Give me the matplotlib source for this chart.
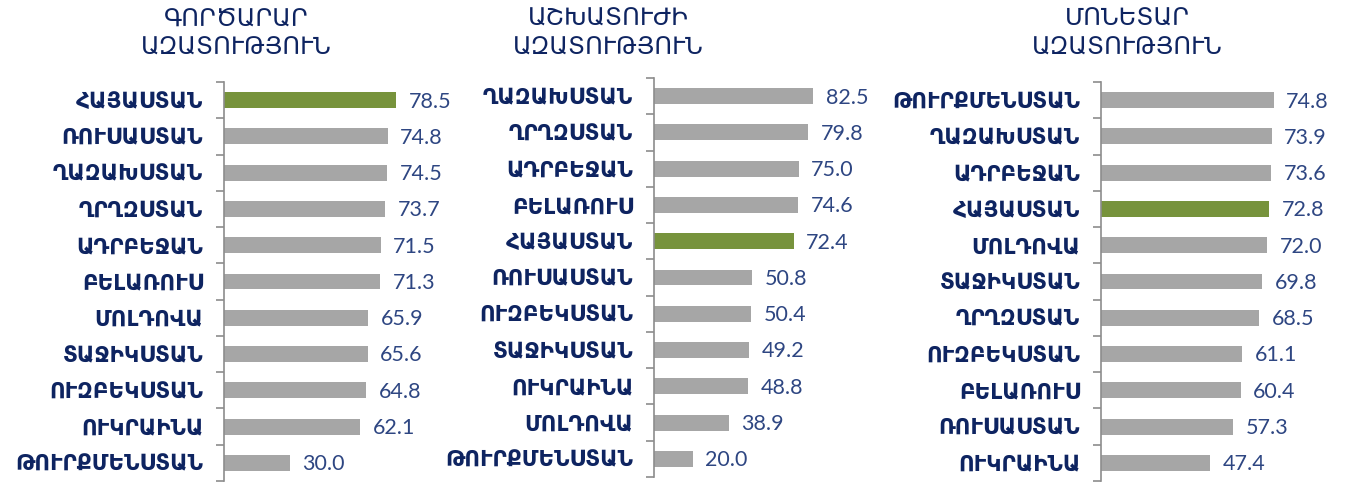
import matplotlib
matplotlib.use('Agg')
import matplotlib.pyplot as plt

titles = ['ԳՈՐԾԱՐԱՐ\nԱԶԱՏՈՒԹՅՈՒՆ', 'ԱՇԽԱՏՈՒԺԻ\nԱԶԱՏՈՒԹՅՈՒՆ', 'ՄՈՆԵՏԱՐ\nԱԶԱՏՈՒԹՅՈՒՆ']

countries_1 = ['ՀԱՅԱՍՏԱՆ', 'ՌՈՒՍԱՍՏԱՆ', 'ՂԱԶԱԽՍՏԱՆ', 'ՂՐՂԶՍՏԱՆ', 'ԱԴՐԲԵՋԱՆ', 'ԲԵԼԱՌՈՒՍ',
               'ՄՈԼԴՈՎԱ', 'ՏԱՋԻԿՍՏԱՆ', 'ՈՒԶԲԵԿՍՏԱՆ', 'ՈՒԿՐԱԻՆԱ', 'ԹՈՒՐՔՄԵՆՍՏԱՆ']
values_1 = [78.5, 74.8, 74.5, 73.7, 71.5, 71.3, 65.9, 65.6, 64.8, 62.1, 30.0]

countries_2 = ['ՂԱԶԱԽՍՏԱՆ', 'ՂՐՂԶՍՏԱՆ', 'ԱԴՐԲԵՋԱՆ', 'ԲԵԼԱՌՈՒՍ', 'ՀԱՅԱՍՏԱՆ', 'ՌՈՒՍԱՍՏԱՆ',
               'ՈՒԶԲԵԿՍՏԱՆ', 'ՏԱՋԻԿՍՏԱՆ', 'ՈՒԿՐԱԻՆԱ', 'ՄՈԼԴՈՎԱ', 'ԹՈՒՐՔՄԵՆՍՏԱՆ']
values_2 = [82.5, 79.8, 75.0, 74.6, 72.4, 50.8, 50.4, 49.2, 48.8, 38.9, 20.0]

countries_3 = ['ԹՈՒՐՔՄԵՆՍՏԱՆ', 'ՂԱԶԱԽՍՏԱՆ', 'ԱԴՐԲԵՋԱՆ', 'ՀԱՅԱՍՏԱՆ', 'ՄՈԼԴՈՎԱ', 'ՏԱՋԻԿՍՏԱՆ',
               'ՂՐՂԶՍՏԱՆ', 'ՈՒԶԲԵԿՍՏԱՆ', 'ԲԵԼԱՌՈՒՍ', 'ՌՈՒՍԱՍՏԱՆ', 'ՈՒԿՐԱԻՆԱ']
values_3 = [74.8, 73.9, 73.6, 72.8, 72.0, 69.8, 68.5, 61.1, 60.4, 57.3, 47.4]

highlight = 'ՀԱՅԱՍՏԱՆ'
grey = '#A6A6A6'
green = '#77933C'
navy = '#0E2461'
num_col = '#2E4682'

W, H = 1348, 484
fig = plt.figure(figsize=(W / 100, H / 100), dpi=100)

# axes left edge, top, px per unit, title center (all in pixels)
panels = [
    (countries_1, values_1, titles[0], 224, 82, 2.19, 236),
    (countries_2, values_2, titles[1], 654, 78, 1.93, 608),
    (countries_3, values_3, titles[2], 1101, 82, 2.31, 1127),
]

ax_w = 216
for names, vals, title, left, top, scale, tcx in panels:
    span = 399
    ax = fig.add_axes([left / W, (H - top - span) / H, ax_w / W, span / H])
    ypos = list(range(len(names)))
    cols = [green if n == highlight else grey for n in names]
    ax.barh(ypos, vals, height=0.44, color=cols)
    ax.set_xlim(0, ax_w / scale)
    ax.set_ylim(len(names) - 0.5, -0.5)
    for y, v in zip(ypos, vals):
        ax.annotate(f'{v:.1f}', (v, y), xytext=(9, -1), textcoords='offset points',
                    va='center', ha='left', fontsize=15.5, color=num_col,
                    family=['Lato', 'DejaVu Sans'])
    ax.set_yticks(ypos)
    ax.set_yticklabels(names, fontsize=15.5, fontweight='bold', color=navy,
                       family='DejaVu Sans')
    ax.set_yticks([y - 0.5 for y in ypos] + [len(names) - 0.5], minor=True)
    ax.tick_params(axis='y', which='major', length=0, pad=15)
    ax.tick_params(axis='y', which='minor', length=6, color='#8C8C8C', width=1.2)
    ax.set_xticks([])
    for s in ['top', 'right', 'bottom']:
        ax.spines[s].set_visible(False)
    ax.spines['left'].set_color('#8C8C8C')
    ax.spines['left'].set_linewidth(1.2)
    ax.patch.set_visible(False)
    fig.text(tcx / W, 1 - 7 / H, title, ha='center', va='top', fontsize=17.5,
             color=navy, family='DejaVu Sans', linespacing=1.25)

fig.savefig('out.png', dpi=100)
